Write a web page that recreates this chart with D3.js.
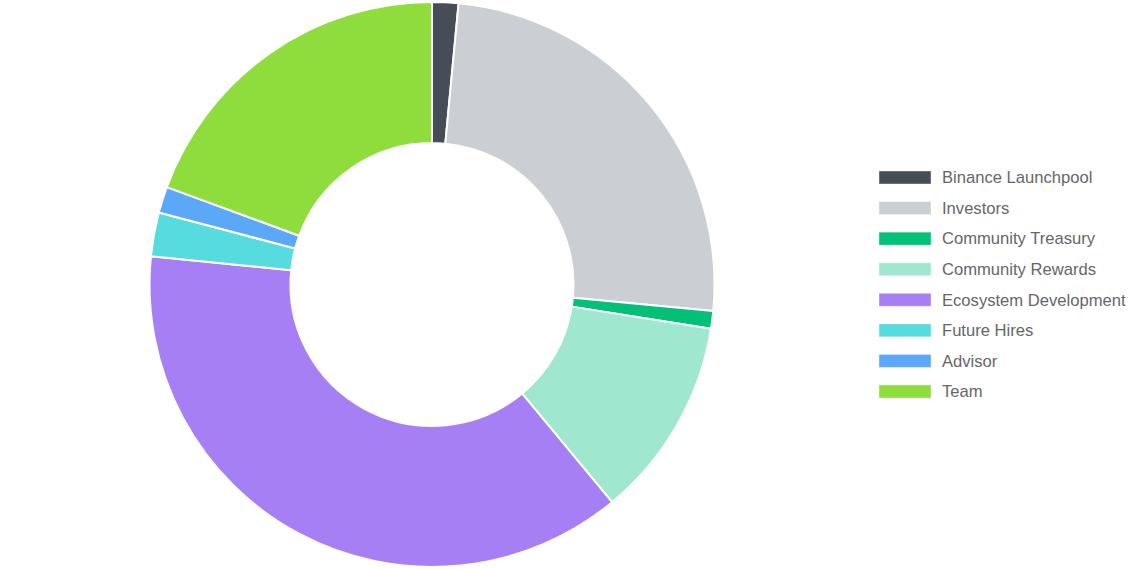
<!DOCTYPE html>
<html><head><meta charset="utf-8">
<script src="https://cdn.jsdelivr.net/npm/d3@7"></script>
<style>html,body{margin:0;padding:0;background:#fff;}svg{display:block;}</style>
</head><body><svg id="c" width="1139" height="569"></svg>
<script>
const categories = ["Binance Launchpool","Investors","Community Treasury","Community Rewards","Ecosystem Development","Future Hires","Advisor","Team"];
const values = [1.5, 25, 1, 11.5, 37.6, 2.5, 1.5, 19.4];
const colors = ["#474d57","#cbced3","#02c076","#9fe8cf","#a67ff5","#56dcdf","#5ba7f8","#8edd3c"];

const svg = d3.select("#c");
const cx = 432, cy = 284.5, R = 282.5, r = 141.5;
const data = categories.map((c,i)=>({name:c, value:values[i], color:colors[i]}));
const pie = d3.pie().value(d=>d.value).sort(null);
const arc = d3.arc().innerRadius(r).outerRadius(R);
svg.append("g").attr("transform",`translate(${cx},${cy})`)
  .selectAll("path").data(pie(data)).join("path")
  .attr("d",arc).attr("fill",d=>d.data.color)
  .attr("stroke","#fff").attr("stroke-width",2).attr("stroke-linejoin","round");

const leg = svg.append("g").attr("transform","translate(879,171)");
const step = 30.57;
const items = leg.selectAll("g").data(data).join("g")
  .attr("transform",(d,i)=>`translate(0,${i*step})`);
items.append("rect").attr("width",52).attr("height",13).attr("fill",d=>d.color)
  .attr("stroke","#fff").attr("stroke-width",1).attr("stroke-opacity",0.4);
items.append("text").attr("x",63).attr("y",6.5).attr("dy","0.35em")
  .attr("font-family","'Liberation Sans', Arial, Helvetica, sans-serif")
  .attr("font-size",16.6).attr("fill","#666").text(d=>d.name);
</script></body></html>
